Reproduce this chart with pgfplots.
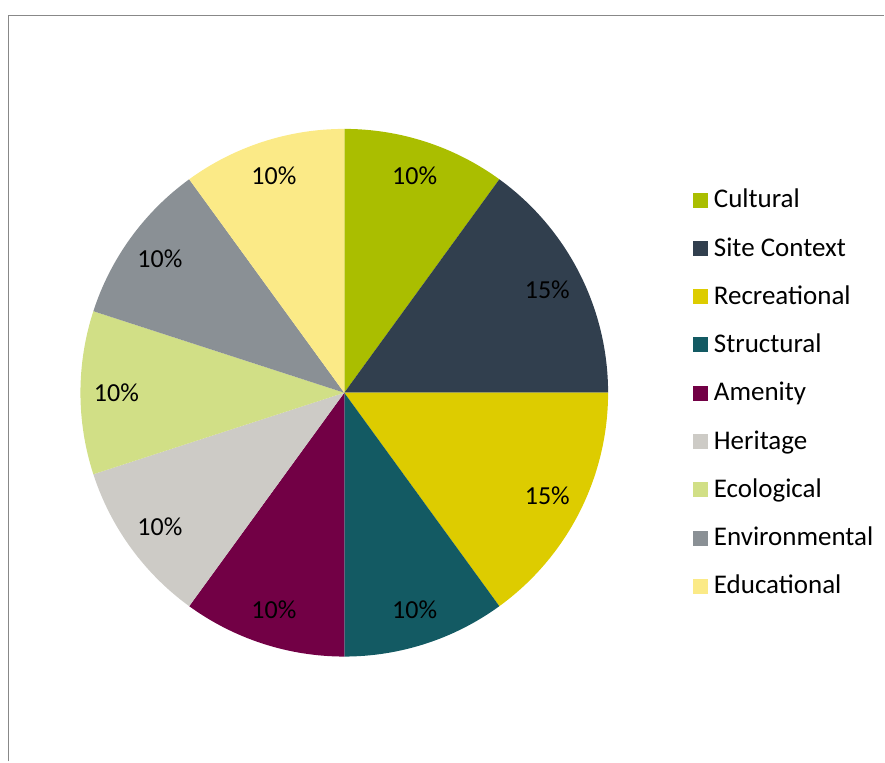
\documentclass[border=0pt]{standalone}
\usepackage{pgfplots}
\pgfplotsset{compat=1.18}
\usepackage{pgfplotstable}
\usepackage{fontspec}
\setmainfont{Carlito}

\definecolor{cCult}{HTML}{AABE00}
\definecolor{cSite}{HTML}{313F4E}
\definecolor{cRec}{HTML}{DDCC00}
\definecolor{cStruct}{HTML}{135A63}
\definecolor{cAmen}{HTML}{720045}
\definecolor{cHer}{HTML}{CDCBC6}
\definecolor{cEco}{HTML}{D1DF86}
\definecolor{cEnv}{HTML}{8A9095}
\definecolor{cEdu}{HTML}{FBEA87}
\definecolor{frame}{HTML}{888888}

% share of each category, clockwise from 12 o'clock
\pgfplotstableread[col sep=comma]{
share,colour,name
10,cCult,Cultural
15,cSite,Site Context
15,cRec,Recreational
10,cStruct,Structural
10,cAmen,Amenity
10,cHer,Heritage
10,cEco,Ecological
10,cEnv,Environmental
10,cEdu,Educational
}\piedata
\pgfplotstablecreatecol[create col/expr accum={\pgfmathaccuma + \thisrow{share}}{0}]{cum}{\piedata}

\begin{document}
\begin{tikzpicture}
\begin{axis}[
  x=1bp, y=1bp,
  xmin=0, xmax=885, ymin=0, ymax=762,
  hide axis, clip=false,
  legend style={at={(axis cs:693,572)}, anchor=north west,
    draw=none, fill=none, inner sep=0pt, outer sep=0pt,
    row sep=24.3bp, column sep=7bp,
    font=\fontsize{27bp}{31bp}\selectfont,
    nodes={inner sep=0pt, text height=18bp, text depth=6bp, anchor=base west}},
  legend cell align=left,
  legend image code/.code={\fill[#1] (0bp,1bp) rectangle (14bp,15bp);},
]
% page area
\path (axis cs:0,0) rectangle (axis cs:885,762);
% chart frame (only top and left edges are visible)
\draw[frame, line width=1.2bp] (axis cs:8.5,0) -- (axis cs:8.5,746.5) -- (axis cs:885,746.5);

\pgfplotsextra{
  \pgfplotstablegetrowsof{\piedata}
  \pgfmathtruncatemacro\last{\pgfplotsretval-1}
  \foreach \i in {0,...,\last}{
    \pgfplotstablegetelem{\i}{share}\of{\piedata}\let\v\pgfplotsretval
    \pgfplotstablegetelem{\i}{cum}\of{\piedata}\let\c\pgfplotsretval
    \pgfplotstablegetelem{\i}{colour}\of{\piedata}\let\col\pgfplotsretval
    \pgfmathsetmacro\a{90-3.6*(\c-\v)}
    \pgfmathsetmacro\b{90-3.6*\c}
    \pgfmathsetmacro\m{(\a+\b)/2}
    \fill[\col] (axis cs:344.5,369) -- ++(\a:264bp)
      arc[start angle=\a, end angle=\b, radius=264bp] -- cycle;
    \path (axis cs:344.5,369) ++(\m:228bp)
      node[font=\fontsize{26bp}{30bp}\selectfont, inner sep=0pt]
      {\v\%};
  }
}

\addlegendimage{cCult}\addlegendentry{Cultural}
\addlegendimage{cSite}\addlegendentry{Site Context}
\addlegendimage{cRec}\addlegendentry{Recreational}
\addlegendimage{cStruct}\addlegendentry{Structural}
\addlegendimage{cAmen}\addlegendentry{Amenity}
\addlegendimage{cHer}\addlegendentry{Heritage}
\addlegendimage{cEco}\addlegendentry{Ecological}
\addlegendimage{cEnv}\addlegendentry{Environmental}
\addlegendimage{cEdu}\addlegendentry{Educational}
\end{axis}
\end{tikzpicture}
\end{document}
